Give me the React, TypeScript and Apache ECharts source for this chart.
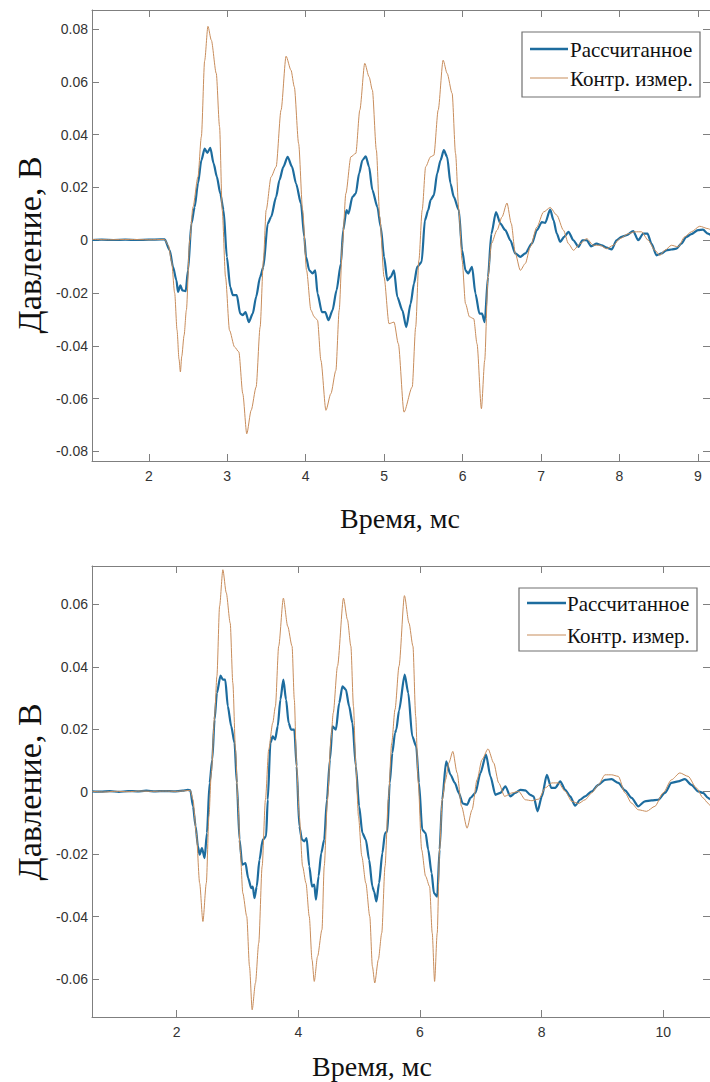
import React, { useEffect, useRef } from "react";
import * as echarts from "echarts";

// ---------- Data ----------
const topXTicks = [2, 3, 4, 5, 6, 7, 8, 9];
const topYTicks = [-0.08, -0.06, -0.04, -0.02, 0, 0.02, 0.04, 0.06, 0.08];
const bottomXTicks = [2, 4, 6, 8, 10];
const bottomYTicks = [-0.06, -0.04, -0.02, 0, 0.02, 0.04, 0.06];

const seriesNames = ["Рассчитанное", "Контр. измер."];
const xTitle = "Время, мс";
const yTitle = "Давление, В";

const topCalculated: number[][] = [
  [1.28, 0.0001], [1.4, 0.0002], [1.55, 0.0001], [1.7, 0.0002], [1.85, 0.0001], [2.0, 0.0002], [2.15, 0.0003], [2.203, 0.0003],
  [2.267, -0.0038], [2.309, -0.0101], [2.352, -0.0152], [2.372, -0.0196], [2.403, -0.0171], [2.428, -0.019], [2.47, -0.0193],
  [2.5, -0.0114], [2.543, 0.0063], [2.585, 0.0126], [2.627, 0.0215], [2.67, 0.0303], [2.712, 0.0347], [2.746, 0.0331],
  [2.784, 0.035], [2.826, 0.0291], [2.868, 0.024], [2.911, 0.0177], [2.953, 0.0114], [2.995, -0.0063], [3.038, -0.0177],
  [3.071, -0.0208], [3.122, -0.0208], [3.165, -0.0278], [3.198, -0.0284], [3.233, -0.0272], [3.275, -0.031], [3.325, -0.0278],
  [3.368, -0.0215], [3.419, -0.0139], [3.461, -0.0101], [3.516, 0.0063], [3.559, 0.0088], [3.623, 0.0164], [3.665, 0.0227],
  [3.715, 0.0278], [3.77, 0.0316], [3.826, 0.0278], [3.877, 0.0215], [3.94, 0.0139], [3.982, 0.0013], [4.004, -0.0063],
  [4.046, -0.0114], [4.088, -0.0126], [4.122, -0.0114], [4.151, -0.0202], [4.207, -0.0272], [4.249, -0.0272], [4.291, -0.0303],
  [4.342, -0.0265], [4.393, -0.019], [4.449, -0.0088], [4.478, 0.0038], [4.52, 0.0114], [4.545, 0.0101], [4.596, 0.0164],
  [4.639, 0.0177], [4.681, 0.0253], [4.723, 0.0303], [4.766, 0.0318], [4.808, 0.0278], [4.85, 0.019], [4.914, 0.0126],
  [4.957, 0.005], [4.999, -0.0063], [5.041, -0.0152], [5.084, -0.0139], [5.126, -0.0114], [5.168, -0.0215], [5.232, -0.0265],
  [5.282, -0.0329], [5.338, -0.024], [5.38, -0.0164], [5.422, -0.0101], [5.478, -0.0082], [5.52, 0.0076], [5.562, 0.0114],
  [5.592, 0.0152], [5.634, 0.0171], [5.676, 0.0253], [5.719, 0.0303], [5.761, 0.0341], [5.803, 0.0316], [5.846, 0.0215],
  [5.888, 0.0164], [5.952, 0.0114], [5.994, -0.0038], [6.037, -0.0114], [6.07, -0.0126], [6.121, -0.0101], [6.164, -0.0202],
  [6.215, -0.0278], [6.248, -0.0278], [6.282, -0.031], [6.324, -0.0139], [6.367, 0.0025], [6.426, 0.0107], [6.482, 0.0063],
  [6.545, 0.0038], [6.609, 0], [6.672, -0.005], [6.736, -0.0063], [6.8, -0.005], [6.883, -0.0013], [6.947, 0.0038],
  [7.011, 0.0069], [7.053, 0.0066], [7.117, 0.0116], [7.159, 0.0076], [7.201, 0.0025], [7.244, -0.0006], [7.295, 0.0013],
  [7.35, 0.0032], [7.413, 0], [7.477, -0.0025], [7.527, 0], [7.582, 0], [7.638, -0.0023], [7.709, -0.0013], [7.773, -0.0019],
  [7.836, -0.0028], [7.9, -0.0035], [7.963, 0], [8.027, 0.0013], [8.09, 0.0019], [8.175, 0.0035], [8.239, 0], [8.303, 0.0025],
  [8.357, 0.0025], [8.408, -0.0013], [8.472, -0.0057], [8.535, -0.005], [8.599, -0.0038], [8.662, -0.0035], [8.726, -0.0032],
  [8.789, -0.0013], [8.853, 0.0013], [8.916, 0.0023], [9.001, 0.0038], [9.064, 0.004], [9.128, 0.0025], [9.16, 0.002],
];

const topMeasured: number[][] = [
  [1.28, 0.0003], [1.5, 0.0002], [1.75, 0.0003], [2.0, 0.0002], [2.2, 0.0003], [2.25, -0.002], [2.29, -0.008], [2.33, -0.02],
  [2.36, -0.034], [2.385, -0.045], [2.403, -0.0499], [2.42, -0.044], [2.45, -0.036], [2.479, -0.0265], [2.522, 0],
  [2.563, 0.0126], [2.627, 0.024], [2.67, 0.0392], [2.712, 0.068], [2.754, 0.081], [2.797, 0.0758], [2.86, 0.0632],
  [2.902, 0.043], [2.936, 0.0114], [2.978, -0.0139], [3.029, -0.0341], [3.093, -0.0404], [3.148, -0.0423], [3.198, -0.0581],
  [3.249, -0.0733], [3.305, -0.0644], [3.368, -0.0556], [3.419, -0.0329], [3.461, -0.0076], [3.496, 0.0114], [3.559, 0.024],
  [3.623, 0.0278], [3.686, 0.0493], [3.75, 0.0697], [3.813, 0.0644], [3.855, 0.0581], [3.91, 0.0366], [3.961, 0.0114],
  [4.011, -0.0114], [4.067, -0.0265], [4.109, -0.029], [4.151, -0.0303], [4.194, -0.0455], [4.258, -0.0644], [4.321, -0.0581],
  [4.385, -0.0493], [4.427, -0.0265], [4.469, -0.0013], [4.512, 0.0177], [4.576, 0.0316], [4.639, 0.0329], [4.69, 0.0493],
  [4.753, 0.067], [4.808, 0.0619], [4.85, 0.0569], [4.901, 0.0341], [4.944, 0.0088], [4.999, -0.0139], [5.062, -0.0316],
  [5.126, -0.031], [5.181, -0.0392], [5.253, -0.0651], [5.358, -0.0556], [5.402, -0.0329], [5.443, -0.0076], [5.485, 0.0114],
  [5.529, 0.0278], [5.592, 0.0316], [5.634, 0.0322], [5.689, 0.0493], [5.752, 0.0682], [5.803, 0.0632], [5.867, 0.0556],
  [5.91, 0.0329], [5.952, 0.0114], [5.994, -0.0076], [6.037, -0.024], [6.088, -0.029], [6.142, -0.0297], [6.184, -0.0392],
  [6.24, -0.0638], [6.282, -0.0455], [6.324, -0.0139], [6.367, -0.0013], [6.439, 0.0038], [6.502, 0.0088], [6.566, 0.0141],
  [6.621, 0.0063], [6.672, -0.005], [6.736, -0.0114], [6.8, -0.0088], [6.863, -0.0025], [6.947, 0.005], [7.032, 0.0107],
  [7.117, 0.0124], [7.201, 0.0095], [7.286, 0.0038], [7.35, -0.0013], [7.413, -0.0038], [7.498, -0.0013], [7.582, 0.0006],
  [7.667, -0.0019], [7.752, -0.0019], [7.836, -0.0032], [7.921, -0.0019], [8.006, 0.0006], [8.112, 0.0025], [8.197, 0.0032],
  [8.281, 0.0032], [8.366, 0], [8.451, -0.0038], [8.515, -0.0057], [8.578, -0.0038], [8.662, -0.0019], [8.747, -0.0025],
  [8.832, 0.0013], [8.916, 0.0032], [9.023, 0.0053], [9.128, 0.0044], [9.16, 0.004],
];

const bottomCalculated: number[][] = [
  [0.61, 0.0001], [0.75, 0.0], [0.9, 0.0002], [1.05, -0.0001], [1.2, 0.0002], [1.35, 0.0001], [1.5, 0.0003], [1.65, 0.0001],
  [1.8, 0.0002], [1.95, 0.0001], [2.1, 0.0003], [2.18, 0.0006], [2.224, 0.0004],
  [2.268, -0.0047], [2.311, -0.0111], [2.349, -0.0175], [2.377, -0.0202], [2.415, -0.0181], [2.459, -0.0213], [2.497, -0.0133],
  [2.541, 0.0028], [2.585, 0.0103], [2.623, 0.0231], [2.661, 0.0316], [2.721, 0.0372], [2.759, 0.0359], [2.798, 0.0359],
  [2.841, 0.0273], [2.897, 0.0209], [2.951, 0.0156], [2.989, 0.0028], [3.033, -0.0154], [3.077, -0.0234], [3.131, -0.0229],
  [3.175, -0.0277], [3.225, -0.0309], [3.251, -0.0304], [3.279, -0.0341], [3.316, -0.0304], [3.361, -0.0218], [3.415, -0.0154],
  [3.47, -0.0143], [3.497, -0.0026], [3.541, 0.0156], [3.579, 0.0177], [3.618, 0.0167], [3.661, 0.0209], [3.705, 0.0295],
  [3.754, 0.0359], [3.798, 0.0295], [3.841, 0.022], [3.88, 0.0199], [3.934, 0.0199], [3.972, 0.0081], [4.016, -0.0111],
  [4.061, -0.0154], [4.098, -0.0159], [4.136, -0.0149], [4.18, -0.0239], [4.225, -0.0304], [4.262, -0.0298], [4.29, -0.0346],
  [4.333, -0.0271], [4.377, -0.0197], [4.426, -0.0154], [4.47, -0.0026], [4.52, 0.0103], [4.562, 0.0209], [4.618, 0.0199],
  [4.672, 0.0284], [4.726, 0.0337], [4.782, 0.0327], [4.836, 0.0273], [4.89, 0.022], [4.946, 0.0081], [5.0, -0.0047],
  [5.054, -0.0133], [5.11, -0.0154], [5.164, -0.0218], [5.218, -0.0304], [5.246, -0.032], [5.284, -0.0352], [5.328, -0.0293],
  [5.382, -0.0197], [5.426, -0.0133], [5.464, -0.0127], [5.503, 0.0028], [5.546, 0.0124], [5.59, 0.0188], [5.611, 0.0199],
  [5.656, 0.026], [5.749, 0.0375], [5.808, 0.0316], [5.874, 0.0177], [5.939, 0.0145], [5.984, 0.0028], [6.038, -0.0122],
  [6.093, -0.0133], [6.136, -0.0186], [6.192, -0.0261], [6.23, -0.0325], [6.284, -0.0336], [6.323, -0.0186], [6.366, -0.0026],
  [6.431, 0.0097], [6.503, 0.0054], [6.574, 0.0028], [6.639, -0.0004], [6.705, -0.0038], [6.775, -0.0042], [6.831, -0.002],
  [6.913, -0.0004], [6.995, 0.006], [7.087, 0.0119], [7.159, 0.0049], [7.241, -0.001], [7.323, -0.0004], [7.405, 0.0017],
  [7.487, -0.0015], [7.569, -0.0004], [7.651, 0.0006], [7.733, 0.0004], [7.815, -0.001], [7.869, -0.0015], [7.934, -0.0063],
  [8.005, -0.0015], [8.087, 0.0054], [8.159, 0.0012], [8.225, 0.0012], [8.307, 0.0033], [8.389, 0.0006], [8.47, -0.0015],
  [8.552, -0.0045], [8.634, -0.0026], [8.716, -0.0015], [8.825, 0.0001], [8.934, 0.0022], [9.044, 0.0038], [9.152, 0.004],
  [9.262, 0.0028], [9.372, 0.0004], [9.481, -0.002], [9.59, -0.0047], [9.699, -0.0031], [9.808, -0.0028], [9.918, -0.0026],
  [10.028, -0.0004], [10.136, 0.0028], [10.246, 0.0033], [10.356, 0.004], [10.464, 0.0022], [10.574, 0.0001], [10.656, -0.0004],
  [10.738, -0.002], [10.77, -0.0025],
];

const bottomMeasured: number[][] = [
  [0.61, 0.0001], [0.8, -0.0001], [1.0, 0.0001], [1.2, 0.0], [1.4, 0.0002], [1.6, 0.0001], [1.8, 0.0002], [2.0, 0.0001],
  [2.15, 0.0003], [2.224, 0.0004],
  [2.268, -0.0026], [2.322, -0.0133], [2.377, -0.0293], [2.431, -0.0416], [2.487, -0.0293], [2.53, -0.0079], [2.569, 0.006],
  [2.623, 0.0241], [2.661, 0.037], [2.705, 0.0594], [2.759, 0.0711], [2.815, 0.0637], [2.88, 0.054], [2.923, 0.0348],
  [2.967, 0.0135], [3.005, -0.0026], [3.044, -0.0186], [3.087, -0.0325], [3.152, -0.04], [3.197, -0.056], [3.241, -0.0699],
  [3.295, -0.0613], [3.349, -0.0485], [3.405, -0.0239], [3.459, -0.0026], [3.513, 0.0135], [3.579, 0.022], [3.623, 0.0273],
  [3.677, 0.0466], [3.754, 0.062], [3.825, 0.053], [3.897, 0.0466], [3.934, 0.0295], [3.972, 0.0081], [4.016, -0.0079],
  [4.07, -0.0239], [4.126, -0.0293], [4.18, -0.04], [4.225, -0.0538], [4.262, -0.0608], [4.316, -0.0528], [4.389, -0.0442],
  [4.426, -0.0239], [4.48, -0.0026], [4.536, 0.0167], [4.574, 0.0252], [4.644, 0.0402], [4.743, 0.062], [4.808, 0.0551],
  [4.864, 0.0466], [4.907, 0.0273], [4.946, 0.0081], [4.989, -0.0079], [5.044, -0.0207], [5.11, -0.0293], [5.175, -0.04],
  [5.218, -0.056], [5.257, -0.0613], [5.316, -0.0538], [5.372, -0.0453], [5.426, -0.0239], [5.48, -0.0026], [5.536, 0.0156],
  [5.59, 0.0263], [5.656, 0.0402], [5.745, 0.0628], [5.82, 0.054], [5.885, 0.0466], [5.93, 0.0241], [5.972, 0.0028],
  [6.028, -0.0186], [6.093, -0.0271], [6.159, -0.0304], [6.202, -0.0453], [6.241, -0.0608], [6.284, -0.0453], [6.323, -0.0186],
  [6.366, -0.0026], [6.421, 0.0038], [6.475, 0.0092], [6.541, 0.0129], [6.611, 0.006], [6.684, -0.0047], [6.775, -0.0117],
  [6.857, -0.0058], [6.939, 0.0038], [7.021, 0.0103], [7.12, 0.0137], [7.213, 0.0092], [7.295, 0.0028], [7.393, -0.0015],
  [7.513, -0.0004], [7.623, 0.0001], [7.733, -0.0026], [7.841, -0.0029], [7.951, -0.0024], [8.061, 0.0012], [8.169, 0.0028],
  [8.279, 0.0028], [8.389, 0.0001], [8.497, -0.0031], [8.607, -0.0038], [8.716, -0.0026], [8.825, -0.0004], [8.934, 0.0022],
  [9.044, 0.0054], [9.152, 0.0054], [9.262, 0.0049], [9.372, -0.0004], [9.481, -0.0037], [9.59, -0.0058], [9.726, -0.0063],
  [9.864, -0.0047], [10.0, -0.0004], [10.136, 0.0038], [10.274, 0.006], [10.41, 0.0049], [10.546, 0.0012], [10.656, -0.002],
  [10.738, -0.0037], [10.77, -0.0045],
];

// ---------- Styles ----------
const AXIS = "#7f7f7f";
const LABEL = "#333333";
const BLUE = "#1d6c9e";
const ORANGE = "#c88d5c";
const SANS = "'Liberation Sans', Arial, sans-serif";
const SERIF = "'Liberation Serif', 'Times New Roman', serif";

function xAx(gridIndex: number, min: number, max: number, ticks: number[], position: string, labels: boolean) {
  return {
    type: "value",
    gridIndex,
    min,
    max,
    position,
    axisLine: { show: true, onZero: false, lineStyle: { color: AXIS, width: 1 } },
    axisTick: { show: true, inside: true, length: 7, customValues: ticks, lineStyle: { color: AXIS } },
    axisLabel: {
      show: labels,
      customValues: ticks,
      margin: 8,
      color: LABEL,
      fontFamily: SANS,
      fontSize: 14,
      formatter: (v: number) => String(v),
    },
    splitLine: { show: false },
  };
}

function yAx(gridIndex: number, min: number, max: number, ticks: number[], position: string, labels: boolean) {
  return {
    type: "value",
    gridIndex,
    min,
    max,
    position,
    axisLine: { show: true, onZero: false, lineStyle: { color: AXIS, width: 1 } },
    axisTick: { show: true, inside: true, length: 7, customValues: ticks, lineStyle: { color: AXIS } },
    axisLabel: {
      show: labels,
      customValues: ticks,
      margin: 4,
      color: LABEL,
      fontFamily: SANS,
      fontSize: 14,
      formatter: (v: number) => (Math.abs(v) < 1e-9 ? "0" : v.toFixed(2)),
    },
    splitLine: { show: false },
  };
}

function legendGraphic(bx: number, by: number, bw: number, bh: number, l1: number, l2: number, lx1: number, lx2: number, tx: number) {
  return [
    { type: "rect", z: 100, shape: { x: bx, y: by, width: bw, height: bh }, style: { fill: "#ffffff", stroke: "#707070", lineWidth: 1.2 } },
    { type: "line", z: 101, shape: { x1: lx1, y1: l1, x2: lx2, y2: l1 }, style: { stroke: BLUE, lineWidth: 2.4 } },
    { type: "line", z: 101, shape: { x1: lx1, y1: l2, x2: lx2, y2: l2 }, style: { stroke: ORANGE, lineWidth: 1.1 } },
    { type: "text", z: 101, x: tx, y: l1 + 1, style: { text: seriesNames[0], fontFamily: SERIF, fontSize: 21, fill: "#111", align: "left", verticalAlign: "middle" } },
    { type: "text", z: 101, x: tx, y: l2 + 1, style: { text: seriesNames[1], fontFamily: SERIF, fontSize: 21, fill: "#111", align: "left", verticalAlign: "middle" } },
  ];
}

function lineSeries(name: string, data: number[][], xi: number, yi: number, color: string, width: number) {
  return {
    type: "line",
    name,
    data,
    xAxisIndex: xi,
    yAxisIndex: yi,
    showSymbol: false,
    symbol: "none",
    smooth: 0.25,
    smoothMonotone: "x",
    lineStyle: { color, width },
    itemStyle: { color },
    emphasis: { disabled: true },
  };
}

export default function App() {
  const ref = useRef<HTMLDivElement>(null);

  useEffect(() => {
    if (!ref.current) return;
    const chart = echarts.init(ref.current, undefined, { renderer: "svg" });

    const topX: [number, number] = [1.276, 9.154];
    const topY: [number, number] = [-0.0836, 0.0872];
    const botX: [number, number] = [0.607, 10.77];
    const botY: [number, number] = [-0.0722, 0.0723];

    const option: any = {
      animation: false,
      backgroundColor: "#ffffff",
      grid: [
        { left: 92, top: 10, width: 620, height: 451 },
        { left: 92, top: 566, width: 620, height: 451 },
      ],
      xAxis: [
        xAx(0, topX[0], topX[1], topXTicks, "bottom", true),
        xAx(0, topX[0], topX[1], topXTicks, "top", false),
        xAx(1, botX[0], botX[1], bottomXTicks, "bottom", true),
        xAx(1, botX[0], botX[1], bottomXTicks, "top", false),
      ],
      yAxis: [
        yAx(0, topY[0], topY[1], topYTicks, "left", true),
        yAx(0, topY[0], topY[1], topYTicks, "right", false),
        yAx(1, botY[0], botY[1], bottomYTicks, "left", true),
        yAx(1, botY[0], botY[1], bottomYTicks, "right", false),
      ],
      series: [
        lineSeries(seriesNames[0], topCalculated, 0, 0, BLUE, 2.2),
        lineSeries(seriesNames[1], topMeasured, 0, 0, ORANGE, 1),
        lineSeries(seriesNames[0], bottomCalculated, 2, 2, BLUE, 2.2),
        lineSeries(seriesNames[1], bottomMeasured, 2, 2, ORANGE, 1),
      ],
      graphic: [
        { type: "text", x: 29, y: 245, rotation: Math.PI / 2, style: { text: yTitle, fontFamily: SERIF, fontSize: 34, fill: "#111", align: "center", verticalAlign: "middle" } },
        { type: "text", x: 29, y: 792, rotation: Math.PI / 2, style: { text: yTitle, fontFamily: SERIF, fontSize: 34, fill: "#111", align: "center", verticalAlign: "middle" } },
        { type: "text", x: 400, y: 518, style: { text: xTitle, fontFamily: SERIF, fontSize: 28, fill: "#111", align: "center", verticalAlign: "middle" } },
        { type: "text", x: 372, y: 1066, style: { text: xTitle, fontFamily: SERIF, fontSize: 28, fill: "#111", align: "center", verticalAlign: "middle" } },
        ...legendGraphic(522, 32, 178, 65, 49, 78, 530, 568, 570),
        ...legendGraphic(519, 588, 178, 63, 603, 635, 527, 566, 567),
      ],
    };

    chart.setOption(option);
    return () => chart.dispose();
  }, []);

  return (
    <div
      ref={ref}
      style={{ position: "absolute", left: 0, top: 0, width: 710, height: 1082, background: "#fff" }}
    />
  );
}
